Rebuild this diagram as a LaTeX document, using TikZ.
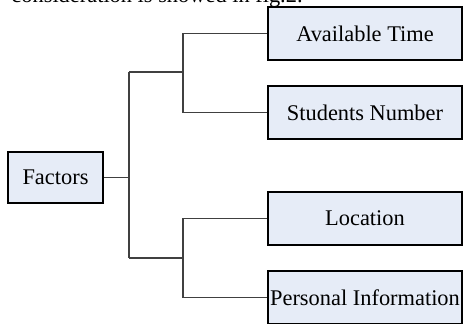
\documentclass[tikz,border=0pt]{standalone}
\usepackage{fontspec}
\setmainfont{Liberation Serif}
\definecolor{boxblue}{RGB}{230,236,247}

\begin{document}
\begin{tikzpicture}[x=0.5pt, y=-0.5pt,
        box/.style={draw=black, fill=boxblue, line width=0.7pt, inner sep=0pt,
            minimum width=97pt, minimum height=26.5pt, font=\fontsize{11.2}{13}\selectfont},
        fbox/.style={box, minimum width=47.5pt, minimum height=25.5pt},
        lw/.style={draw=black!75, line width=0.65pt}]

    \useasboundingbox (0,0) rectangle (465,323);
    \clip (0,0) rectangle (465,323);

    %% -- text line cut off at the top --
    \node[anchor=base east, inner sep=0pt, font=\fontsize{11.2}{13}\selectfont] (cap)
        at (303,2) {consideration is showed in fig.2.};

    %% -- boxes --
    \node[fbox] (F) at (55.5,177.5) {Factors};

    \node[box] (A) at (365,33.5) {Available Time};
    \node[box] (S) at (365,112.5) {Students Number};
    \node[box] (L) at (365,218.5) {Location};
    \node[box] (P) at (365,297.5) {Personal Information};

    %% -- branch points --
    \coordinate (j0) at (129,177.5);
    \coordinate (mU) at (129,72);
    \coordinate (mL) at (129,258);
    \coordinate (jU) at (183,72);
    \coordinate (jL) at (183,258);

    %% -- connectors --
    \draw[lw] (F) -- (j0);
    \draw[lw] (mU) -- (mL);
    \draw[lw] (mU) -- (jU);
    \draw[lw] (mL) -- (jL);

    \foreach \j/\B in {jU/A, jU/S, jL/L, jL/P}
    \draw[lw] (\j) |- (\B);

\end{tikzpicture}
\end{document}
